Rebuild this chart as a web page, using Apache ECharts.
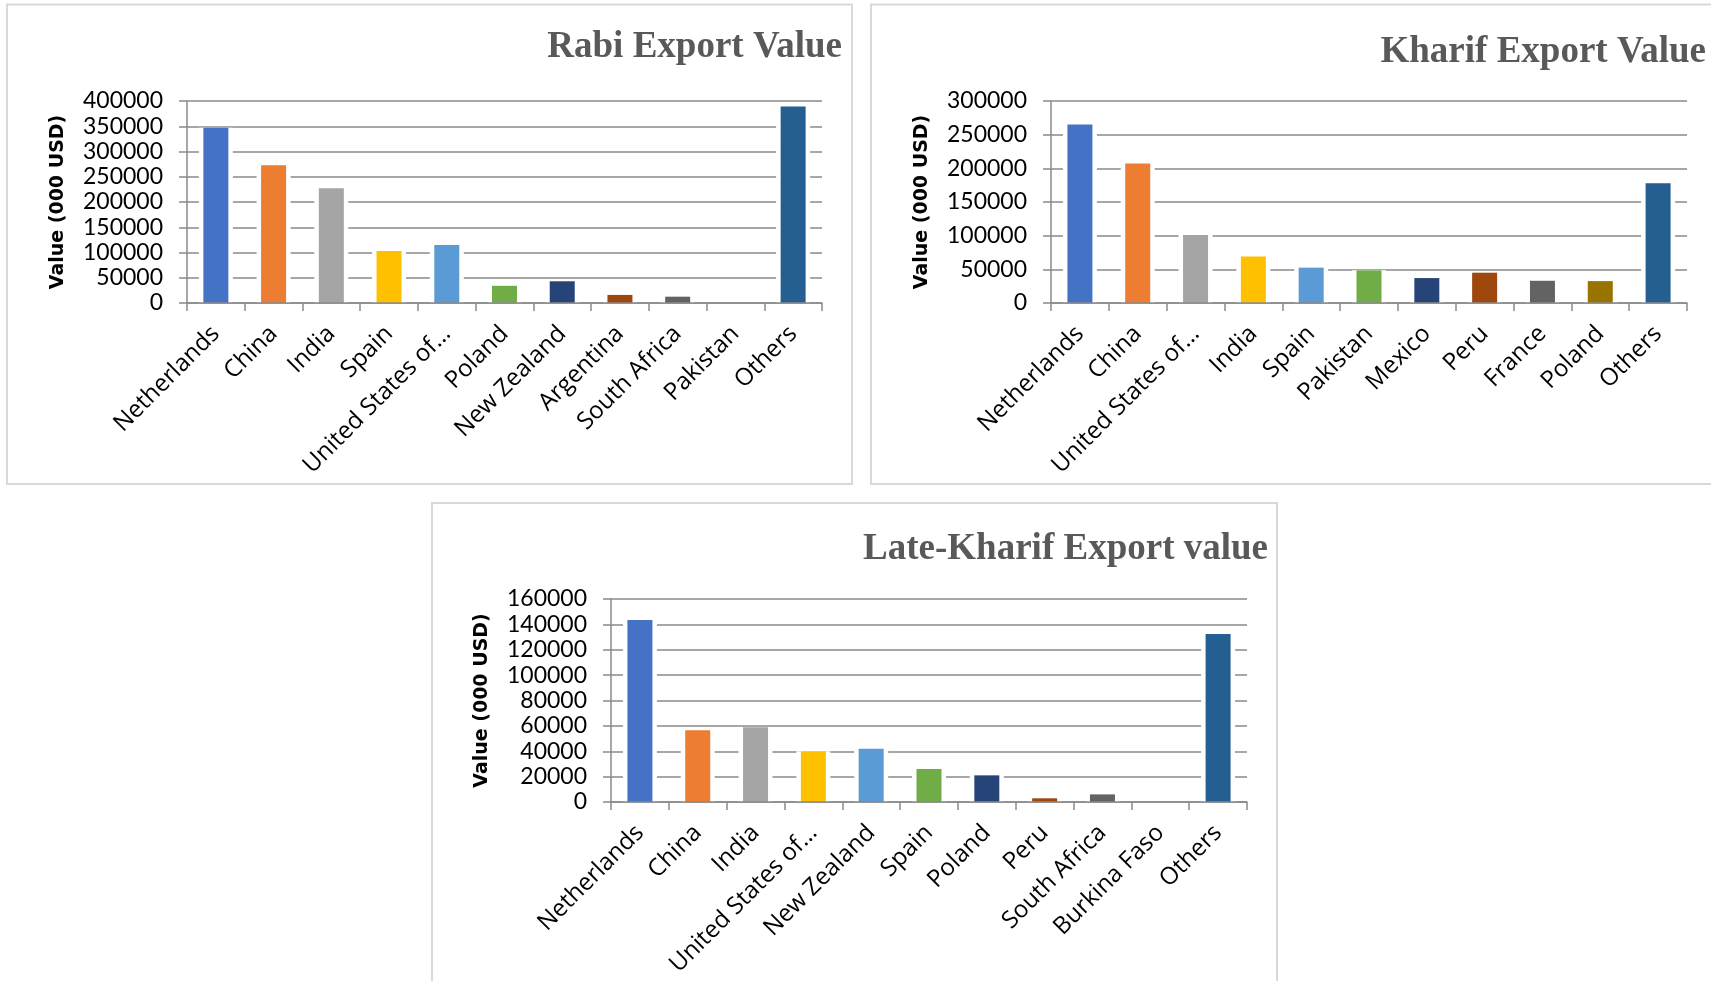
<!DOCTYPE html>
<html>
<head>
<meta charset="utf-8">
<title>Export Value by Season</title>
<script src="https://cdn.jsdelivr.net/npm/echarts@6/dist/echarts.min.js"></script>
<style>
  html, body { margin: 0; padding: 0; background: #ffffff; }
  #chart { width: 1711px; height: 981px; }
</style>
</head>
<body>
<div id="chart"></div>
<script>
// Export values by destination, thousand USD
const rabiCategories = ['Netherlands', 'China', 'India', 'Spain', 'United States of…', 'Poland',
  'New Zealand', 'Argentina', 'South Africa', 'Pakistan', 'Others'];
const rabiValues = [347000, 273000, 227000, 103000, 115000, 34000, 43000, 16000, 12500, 0, 389000];

const kharifCategories = ['Netherlands', 'China', 'United States of…', 'India', 'Spain', 'Pakistan',
  'Mexico', 'Peru', 'France', 'Poland', 'Others'];
const kharifValues = [265000, 207000, 101000, 69000, 52500, 48500, 37000, 45000, 33000, 32500, 178000];

const lateCategories = ['Netherlands', 'China', 'India', 'United States of…', 'New Zealand', 'Spain',
  'Poland', 'Peru', 'South Africa', 'Burkina Faso', 'Others'];
const lateValues = [143500, 56500, 59000, 40000, 42000, 26000, 21000, 2900, 6000, 0, 132500];

const rabiTicks = { max: 400000, step: 50000 };
const kharifTicks = { max: 300000, step: 50000 };
const lateTicks = { max: 160000, step: 20000 };

const titles = ['Rabi Export Value', 'Kharif Export Value', 'Late-Kharif Export value'];
const yName = 'Value (000 USD)';

// Office-style bar palette, one colour per category position
const palette = ['#4472C4', '#ED7D31', '#A5A5A5', '#FFC000', '#5B9BD5', '#70AD47',
  '#264478', '#9E480E', '#636363', '#997300', '#255E91'];

const gridColor = '#8a8a8a';

const panels = [
  { cats: rabiCategories, vals: rabiValues, ticks: rabiTicks,
    grid: { left: 187, top: 101, width: 635, height: 202 },
    title: { right: 869, top: 29 } },
  { cats: kharifCategories, vals: kharifValues, ticks: kharifTicks,
    grid: { left: 1051, top: 101, width: 636, height: 202 },
    title: { right: 5, top: 34 } },
  { cats: lateCategories, vals: lateValues, ticks: lateTicks,
    grid: { left: 611, top: 599, width: 636, height: 203 },
    title: { right: 443, top: 531 } }
];

const n = panels.length;

// visible category axes, then hidden twins carrying the white halo bars
const visibleX = panels.map((p, i) => ({
  type: 'category',
  gridIndex: i,
  data: p.cats,
  z: 5,
  axisLine: { show: true, lineStyle: { color: gridColor, width: 1.5 } },
  axisTick: { show: true, length: 8, alignWithLabel: false, lineStyle: { color: gridColor, width: 1.5 } },
  axisLabel: {
    interval: 0,
    rotate: 45,
    margin: 27,
    fontFamily: 'Open Sans',
    fontSize: 24,
    color: '#000000'
  },
  splitLine: { show: false }
}));
const haloX = panels.map((p, i) => ({
  type: 'category',
  gridIndex: i,
  data: p.cats,
  show: false
}));

const option = {
  animation: false,
  backgroundColor: '#ffffff',
  title: panels.map((p, i) => ({
    text: titles[i],
    right: p.title.right,
    top: p.title.top,
    padding: 0,
    textStyle: {
      fontFamily: 'Liberation Serif',
      fontWeight: 'bold',
      fontSize: 37,
      color: '#595959'
    }
  })),
  graphic: [
    { type: 'rect', shape: { x: 7, y: 4.5, width: 845, height: 479.5 },
      style: { fill: 'none', stroke: '#d9d9d9', lineWidth: 2 }, z: -1 },
    { type: 'rect', shape: { x: 871, y: 4.5, width: 900, height: 479.5 },
      style: { fill: 'none', stroke: '#d9d9d9', lineWidth: 2 }, z: -1 },
    { type: 'rect', shape: { x: 432, y: 503, width: 845, height: 520 },
      style: { fill: 'none', stroke: '#d9d9d9', lineWidth: 2 }, z: -1 }
  ],
  grid: panels.map(p => Object.assign({ containLabel: false }, p.grid)),
  xAxis: visibleX.concat(haloX),
  yAxis: panels.map((p, i) => ({
    type: 'value',
    gridIndex: i,
    min: 0,
    max: p.ticks.max,
    interval: p.ticks.step,
    name: yName,
    nameLocation: 'middle',
    nameRotate: 90,
    nameGap: 119,
    nameTextStyle: {
      fontFamily: 'DejaVu Sans',
      fontWeight: 'bold',
      fontSize: 19,
      color: '#000000'
    },
    axisLine: { show: true, lineStyle: { color: gridColor, width: 1.5 } },
    axisTick: { show: true, length: 8, lineStyle: { color: gridColor, width: 1.5 } },
    axisLabel: {
      margin: 24,
      fontFamily: 'Lato',
      fontSize: 23,
      color: '#000000',
      formatter: v => String(v)
    },
    splitLine: { show: true, lineStyle: { color: gridColor, width: 1.5 } }
  })),
  series: [].concat(
    // white halo behind each bar, breaking the gridlines around it
    panels.map((p, i) => ({
      type: 'bar',
      xAxisIndex: n + i,
      yAxisIndex: i,
      data: p.vals,
      barWidth: 34,
      z: 1,
      itemStyle: { color: '#ffffff' },
      silent: true
    })),
    panels.map((p, i) => ({
      type: 'bar',
      xAxisIndex: i,
      yAxisIndex: i,
      data: p.vals.map((v, k) => ({ value: v, itemStyle: { color: palette[k] } })),
      barWidth: 25,
      z: 2
    }))
  )
};

const chart = echarts.init(document.getElementById('chart'), null, { renderer: 'canvas' });
chart.setOption(option);
</script>
</body>
</html>
